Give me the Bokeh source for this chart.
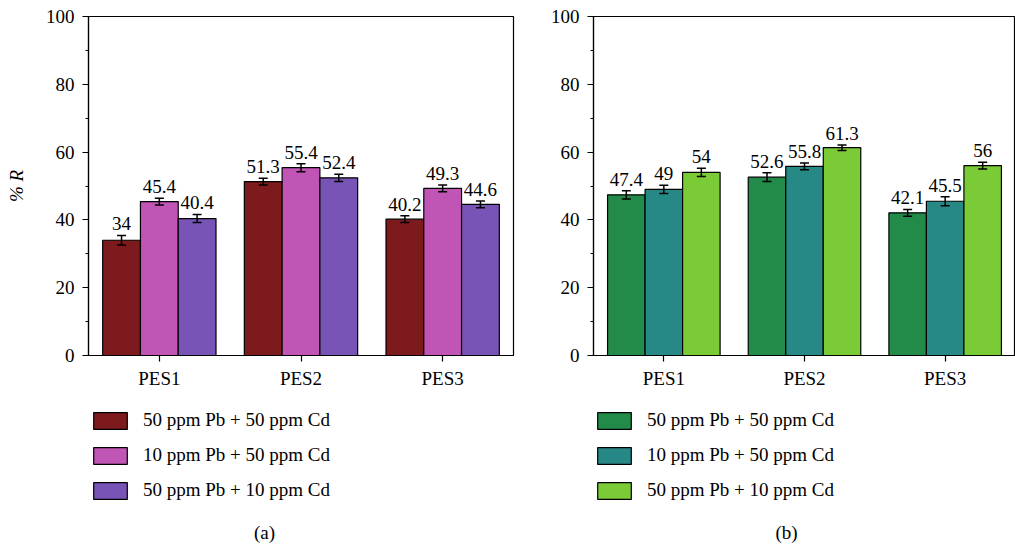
from bokeh.plotting import figure
from bokeh.models import (ColumnDataSource, Whisker, TeeHead, Legend, LegendItem,
                          Label, FixedTicker, FactorRange, Range1d)
from bokeh.transform import dodge
from bokeh.layouts import row, column
from bokeh.core.properties import value
from bokeh.embed import file_html
from bokeh.resources import INLINE

categories = ["PES1", "PES2", "PES3"]
series_labels = ["50 ppm Pb + 50 ppm Cd", "10 ppm Pb + 50 ppm Cd", "50 ppm Pb + 10 ppm Cd"]

a_s1 = [34, 51.3, 40.2]
a_s2 = [45.4, 55.4, 49.3]
a_s3 = [40.4, 52.4, 44.6]
a_e1 = [1.4, 1.0, 1.0]
a_e2 = [1.0, 1.2, 1.0]
a_e3 = [1.2, 1.1, 1.0]

b_s1 = [47.4, 52.6, 42.1]
b_s2 = [49, 55.8, 45.5]
b_s3 = [54, 61.3, 56]
b_e1 = [1.2, 1.3, 1.0]
b_e2 = [1.2, 1.0, 1.3]
b_e3 = [1.2, 0.8, 1.0]

a_colors = ["#7D1A1D", "#C055B5", "#7854B6"]
b_colors = ["#238B4A", "#278986", "#7BCB37"]

y_ticks = [0, 20, 40, 60, 80, 100]
y_minor = [10, 30, 50, 70, 90]

FONT = value("Liberation Serif")
FS = "19px"
CHART_H = 395
LEG_H = 151


def make_chart(series, errs, colors, width, left, right, ylabel):
    p = figure(x_range=FactorRange(*categories, range_padding=0), y_range=Range1d(0, 100),
               width=width, height=CHART_H, output_backend="svg", toolbar_location=None,
               min_border_left=left, min_border_right=right, min_border_top=16,
               min_border_bottom=CHART_H - 16 - 339)
    p.xgrid.grid_line_color = None
    p.ygrid.grid_line_color = None
    p.outline_line_color = "black"
    p.outline_line_width = 1.2
    p.background_fill_color = "white"

    p.yaxis.ticker = FixedTicker(ticks=y_ticks, minor_ticks=y_minor)
    for ax in (p.xaxis[0], p.yaxis[0]):
        ax.axis_line_color = "black"
        ax.axis_line_width = 1.2
        ax.major_tick_line_color = "black"
        ax.major_tick_line_width = 1.2
        ax.major_tick_out = 6
        ax.major_tick_in = 0
        ax.major_label_text_font = "Liberation Serif"
        ax.major_label_text_font_size = FS
        ax.major_label_text_color = "black"
    p.yaxis.minor_tick_out = 3
    p.yaxis.minor_tick_in = 0
    p.yaxis.minor_tick_line_color = "black"
    p.yaxis.major_label_standoff = 8
    p.xaxis.major_label_standoff = 6
    if ylabel:
        p.yaxis.axis_label = ylabel
        p.yaxis.axis_label_text_font = "Liberation Serif"
        p.yaxis.axis_label_text_font_style = "italic"
        p.yaxis.axis_label_text_font_size = FS
        p.yaxis.axis_label_text_color = "black"
        p.yaxis.axis_label_standoff = 16

    w = 0.8 / 3
    offsets = [-w, 0.0, w]
    for vals, err, col, off in zip(series, errs, colors, offsets):
        src = ColumnDataSource(dict(
            cat=categories, val=vals,
            upper=[v + e for v, e in zip(vals, err)],
            lower=[v - e for v, e in zip(vals, err)],
            lbl=[f"{v:g}" for v in vals]))
        p.vbar(x=dodge("cat", off, range=p.x_range), top="val", width=w, source=src,
               fill_color=col, line_color="black", line_width=1.2)
        wh = Whisker(base=dodge("cat", off, range=p.x_range), upper="upper", lower="lower",
                     source=src, line_color="black", line_width=1.5, level="overlay",
                     upper_head=TeeHead(size=9, line_width=1.5, line_color="black"),
                     lower_head=TeeHead(size=9, line_width=1.5, line_color="black"))
        p.add_layout(wh)
        p.text(x=dodge("cat", off, range=p.x_range), y="upper", text="lbl", source=src,
               text_align="center", text_baseline="bottom", y_offset=-5,
               text_font=FONT, text_font_size=FS, text_color="black")
    return p


def make_legend(colors, width, leg_x, caption, cap_x):
    q = figure(x_range=Range1d(0, 1), y_range=Range1d(0, 1), width=width, height=LEG_H,
               output_backend="svg", toolbar_location=None, x_axis_type=None,
               y_axis_type=None, min_border=0, min_border_left=0, min_border_right=0,
               min_border_top=0, min_border_bottom=0)
    q.xgrid.grid_line_color = None
    q.ygrid.grid_line_color = None
    q.outline_line_color = None
    items = []
    for col, lab in zip(colors, series_labels):
        # legend-only swatch renderer, kept outside the visible range
        r = q.vbar(x=[-5], top=[-5], bottom=[-6], width=0.1, fill_color=col,
                   line_color="black", line_width=1.2)
        items.append(LegendItem(label=lab, renderers=[r]))
    leg = Legend(items=items, location=(leg_x, 45), glyph_width=42, glyph_height=21,
                 label_height=21, spacing=13, label_standoff=12, padding=0, margin=0,
                 border_line_color=None, background_fill_alpha=0,
                 label_text_font="Liberation Serif", label_text_font_size=FS,
                 label_text_color="black")
    q.add_layout(leg)
    q.add_layout(Label(x=cap_x, y=14, x_units="screen", y_units="screen", text=caption,
                       text_align="center", text_baseline="middle",
                       text_font="Liberation Serif", text_font_size=FS,
                       text_color="black"))
    return q


pa = make_chart([a_s1, a_s2, a_s3], [a_e1, a_e2, a_e3], a_colors, 528, 88, 15, "% R")
pb = make_chart([b_s1, b_s2, b_s3], [b_e1, b_e2, b_e3], b_colors, 487, 65, 0, None)
la = make_legend(a_colors, 528, 1, "(a)", 176)
lb = make_legend(b_colors, 487, 0, "(b)", 193)

layout = row(column(pa, la), column(pb, lb))
open("out.html", "w").write(file_html(layout, INLINE))
